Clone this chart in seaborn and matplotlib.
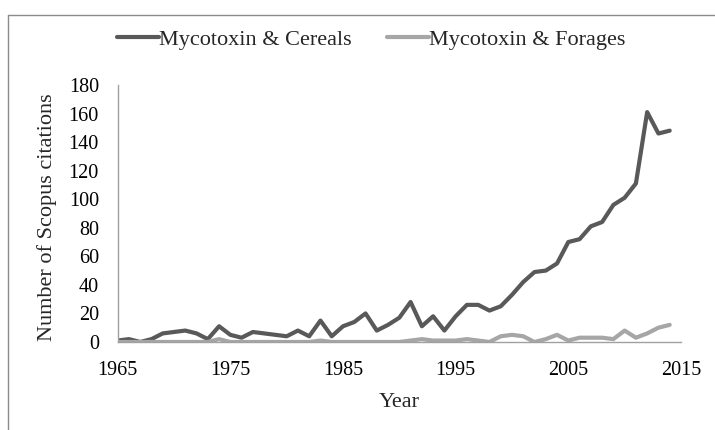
import pandas as pd
import numpy as np
import matplotlib
matplotlib.use('Agg')
import matplotlib.pyplot as plt
import seaborn as sns
from matplotlib.lines import Line2D

years = list(range(1965, 2015))

cereals = [1, 2, 0, 2, 6, 7, 8, 6, 2, 11,
           5, 3, 7, 6, 5, 4, 8, 4, 15, 4,
           11, 14, 20, 8, 12, 17, 28, 11, 18, 8,
           18, 26, 26, 22, 25, 33, 42, 49, 50, 55,
           70, 72, 81, 84, 96, 101, 111, 161, 146, 148]

forages = [0, 0, 0, 0, 0, 0, 0, 0, 0, 2,
           0, 0, 0, 0, 0, 0, 0, 0, 1, 0,
           0, 0, 0, 0, 0, 0, 1, 2, 1, 1,
           1, 2, 1, 0, 4, 5, 4, 0, 2, 5,
           1, 3, 3, 3, 2, 8, 3, 6, 10, 12]

series_names = ['Mycotoxin & Cereals', 'Mycotoxin & Forages']
series_colors = ['#595959', '#a6a6a6']

df = pd.DataFrame({'Year': years, series_names[0]: cereals, series_names[1]: forages})
long = df.melt(id_vars='Year', var_name='serie', value_name='citations')

sns.set_style('white')
plt.rcParams['font.family'] = ['Liberation Serif', 'DejaVu Serif']

fig = plt.figure(figsize=(7.15, 4.3), dpi=100)
ax = fig.add_axes([0.1646, 0.2047, 0.7878, 0.5977])

sns.lineplot(data=long, x='Year', y='citations', hue='serie', hue_order=series_names,
             palette=series_colors, linewidth=3, ax=ax, legend=False,
             solid_joinstyle='round', solid_capstyle='round')

ax.set_xlim(1965, 2015)
ax.set_ylim(0, 180)
ax.set_xticks(range(1965, 2016, 10))
ax.set_yticks(range(0, 181, 20))
ax.tick_params(axis='both', labelsize=14.5, colors='black', direction='out', length=5.5,
               width=1, color='#a0a0a0')
ax.tick_params(axis='y', pad=8)
ax.tick_params(axis='x', pad=8)
for s in ['top', 'right']:
    ax.spines[s].set_visible(False)
for s in ['left', 'bottom']:
    ax.spines[s].set_color('#a0a0a0')
    ax.spines[s].set_linewidth(1)

ax.set_xlabel('Year', fontsize=16)
ax.set_ylabel('Number of Scopus citations', fontsize=16)
ax.xaxis.set_label_coords(0.5, -0.199)
ax.yaxis.set_label_coords(-0.108, 0.485)

handles = [Line2D([0], [0], color=c, lw=3) for c in series_colors]
fig.legend(handles, series_names, loc='center', bbox_to_anchor=(0.519, 1 - 40 / 430),
           ncol=2, frameon=False, fontsize=16, handlelength=1.9, handletextpad=0.0,
           columnspacing=1.6)

# outer chart-area border (cut off on the right and bottom)
fig.add_artist(Line2D([8 / 715, 1], [1 - 15 / 430, 1 - 15 / 430], color='#8c8c8c', lw=1))
fig.add_artist(Line2D([8 / 715, 8 / 715], [0, 1 - 15 / 430], color='#8c8c8c', lw=1))

fig.savefig('out.png', dpi=100)
